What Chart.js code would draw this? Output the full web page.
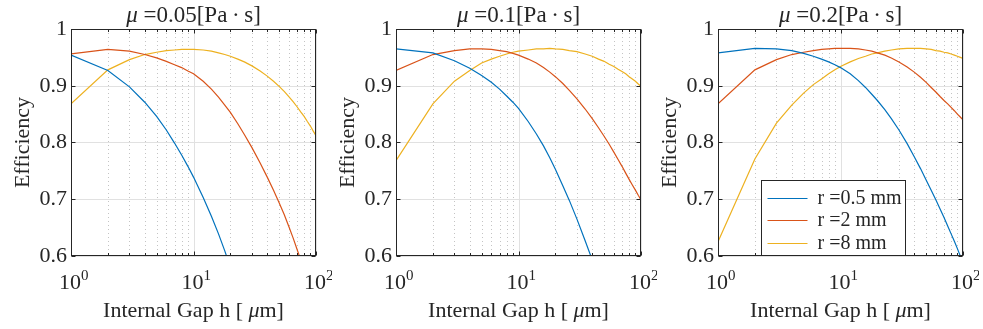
<!DOCTYPE html>
<html>
<head>
<meta charset="utf-8">
<script src="https://cdn.jsdelivr.net/npm/chart.js@4.4.1/dist/chart.umd.min.js"></script>
<style>
  body { margin: 0; background: #fff; width: 983px; height: 329px; overflow: hidden; position: relative; }
  .panel { position: absolute; top: 0; width: 323px; height: 329px; }
</style>
</head>
<body>
<div class="panel" style="left:9px"><canvas id="c1" width="323" height="329"></canvas></div>
<div class="panel" style="left:334px"><canvas id="c2" width="323" height="329"></canvas></div>
<div class="panel" style="left:656px"><canvas id="c3" width="323" height="329"></canvas></div>
<script>
// internal gap h [um]
const gap = [1, 2, 3, 4, 5, 6, 7, 8, 9, 10, 12, 14, 16, 18, 20, 23, 26, 30, 35, 40, 45, 50, 55, 60, 65, 70, 75, 80, 85, 90, 95, 100];
const viscosities = ['0.05', '0.1', '0.2'];
const radii = ['0.5', '2', '8'];
const xTickLabels = ['0', '1', '2'];   // exponents of 10
const yTicks = [0.6, 0.7, 0.8, 0.9, 1];

// mu = 0.05
const mu1_r05 = [0.954, 0.927, 0.898, 0.871, 0.846, 0.822, 0.799, 0.778, 0.758, 0.739, 0.703, 0.670, 0.639, 0.609, 0.580,
                 null, null, null, null, null, null, null, null, null, null, null, null, null, null, null, null, null];
const mu1_r2  = [0.956, 0.964, 0.961, 0.955, 0.949, 0.943, 0.937, 0.932, 0.926, 0.921, 0.908, 0.894, 0.880, 0.866, 0.853,
                 0.833, 0.814, 0.791, 0.764, 0.739, 0.716, 0.694, 0.673, 0.652, 0.632, 0.612, 0.593, 0.575, null, null, null, null];
const mu1_r8  = [0.868, 0.928, 0.946, 0.955, 0.959, 0.962, 0.963, 0.964, 0.964, 0.964, 0.963, 0.961, 0.958, 0.955, 0.952,
                 0.947, 0.942, 0.935, 0.926, 0.917, 0.908, 0.899, 0.890, 0.881, 0.872, 0.863, 0.854, 0.846, 0.837, 0.829, 0.820, 0.812];
// mu = 0.1
const mu2_r05 = [0.965, 0.958, 0.944, 0.931, 0.918, 0.906, 0.894, 0.882, 0.871, 0.860, 0.837, 0.815, 0.794, 0.773, 0.753,
                 0.724, 0.698, 0.665, 0.627, 0.593, 0.561, null, null, null, null, null, null, null, null, null, null, null];
const mu2_r2  = [0.927, 0.955, 0.962, 0.965, 0.965, 0.964, 0.962, 0.960, 0.957, 0.954, 0.947, 0.940, 0.932, 0.924, 0.916,
                 0.904, 0.892, 0.877, 0.859, 0.842, 0.826, 0.811, 0.797, 0.783, 0.770, 0.758, 0.746, 0.735, 0.725, 0.716, 0.707, 0.699];
const mu2_r8  = [0.768, 0.868, 0.908, 0.927, 0.940, 0.947, 0.952, 0.956, 0.959, 0.961, 0.963, 0.965, 0.965, 0.966, 0.965,
                 0.964, 0.962, 0.960, 0.956, 0.952, 0.947, 0.943, 0.938, 0.934, 0.929, 0.925, 0.921, 0.916, 0.912, 0.908, 0.903, 0.899];
// mu = 0.2
const mu3_r05 = [0.958, 0.966, 0.965, 0.962, 0.957, 0.952, 0.947, 0.942, 0.937, 0.932, 0.921, 0.909, 0.897, 0.885, 0.874,
                 0.858, 0.842, 0.822, 0.798, 0.775, 0.754, 0.734, 0.716, 0.699, 0.683, 0.668, 0.653, 0.639, 0.626, 0.613, 0.600, 0.588];
const mu3_r2  = [0.868, 0.928, 0.946, 0.955, 0.959, 0.962, 0.964, 0.965, 0.966, 0.966, 0.966, 0.965, 0.963, 0.961, 0.958,
                 0.954, 0.949, 0.942, 0.933, 0.924, 0.915, 0.906, 0.897, 0.889, 0.881, 0.874, 0.868, 0.862, 0.856, 0.850, 0.845, 0.840];
const mu3_r8  = [0.625, 0.771, 0.834, 0.866, 0.887, 0.902, 0.912, 0.921, 0.928, 0.934, 0.942, 0.948, 0.952, 0.956, 0.958,
                 0.961, 0.963, 0.965, 0.966, 0.966, 0.966, 0.965, 0.964, 0.962, 0.961, 0.959, 0.958, 0.956, 0.954, 0.952, 0.950, 0.948];

const colors = ['#0072BD', '#D95319', '#EDB120'];
const SERIF = '"Liberation Serif", "Times New Roman", serif';
const INK = '#262626';

// all the tick positions of the log axis: 1..9, 10..90, 100
const logTicks = [];
for (let d = 1; d <= 10; d *= 10) for (let k = 1; k < 10; k++) logTicks.push(k * d);
logTicks.push(100);

function points(arr) {
  return gap.map((h, i) => ({ x: h, y: arr[i] }));
}

function drawMixed(ctx, parts, cx, y) {
  // parts: [text, italic, size]
  let total = 0;
  parts.forEach(p => {
    ctx.font = (p[1] ? 'italic ' : '') + p[2] + 'px ' + SERIF;
    total += ctx.measureText(p[0]).width;
  });
  let x = cx - total / 2;
  ctx.textAlign = 'left';
  ctx.textBaseline = 'alphabetic';
  parts.forEach(p => {
    ctx.font = (p[1] ? 'italic ' : '') + p[2] + 'px ' + SERIF;
    ctx.fillText(p[0], x, y);
    x += ctx.measureText(p[0]).width;
  });
}

const matlabAxes = {
  id: 'matlabAxes',
  beforeDatasetsDraw(chart) {
    const { ctx, chartArea: a, scales } = chart;
    const xs = scales.x, ys = scales.y;
    ctx.save();
    ctx.lineWidth = 1;
    logTicks.forEach(v => {
      const px = Math.round(xs.getPixelForValue(v)) + 0.5;
      const major = [1, 10, 100].includes(v);
      ctx.strokeStyle = major ? '#e1e1e1' : '#c4c4c4';
      ctx.setLineDash(major ? [] : [1, 3]);
      ctx.beginPath();
      ctx.moveTo(px, a.top);
      ctx.lineTo(px, a.bottom);
      ctx.stroke();
    });
    ctx.setLineDash([]);
    ctx.strokeStyle = '#e1e1e1';
    yTicks.forEach(v => {
      const py = Math.round(ys.getPixelForValue(v)) + 0.5;
      ctx.beginPath();
      ctx.moveTo(a.left, py);
      ctx.lineTo(a.right, py);
      ctx.stroke();
    });
    ctx.restore();
  },
  afterDatasetsDraw(chart, args, opts) {
    const { ctx, chartArea: a, scales } = chart;
    const xs = scales.x, ys = scales.y;
    ctx.save();
    ctx.strokeStyle = INK;
    ctx.fillStyle = INK;
    ctx.lineWidth = 1;
    const L = Math.round(a.left) + 0.5, R = Math.round(a.right) - 0.5;
    const T = Math.round(a.top) + 0.5, B = Math.round(a.bottom) - 0.5;
    ctx.strokeRect(L, T, R - L, B - T);
    // inward ticks
    ctx.beginPath();
    logTicks.forEach(v => {
      const px = Math.round(xs.getPixelForValue(v)) + 0.5;
      const len = [1, 10, 100].includes(v) ? 4 : 2.5;
      ctx.moveTo(px, B); ctx.lineTo(px, B - len);
      ctx.moveTo(px, T); ctx.lineTo(px, T + len);
    });
    yTicks.forEach(v => {
      const py = Math.round(ys.getPixelForValue(v)) + 0.5;
      ctx.moveTo(L, py); ctx.lineTo(L + 4, py);
      ctx.moveTo(R, py); ctx.lineTo(R - 4, py);
    });
    ctx.stroke();

    // x tick labels 10^n
    ctx.textAlign = 'left';
    ctx.textBaseline = 'alphabetic';
    [1, 10, 100].forEach((v, i) => {
      const px = xs.getPixelForValue(v);
      ctx.font = '22px ' + SERIF;
      const w = ctx.measureText('10').width;
      ctx.fillText('10', px - 12, 289);
      ctx.font = '15px ' + SERIF;
      ctx.fillText(xTickLabels[i], px - 12 + w, 280);
    });

    // x axis title and panel title
    const cx = (a.left + a.right) / 2;
    drawMixed(ctx, [['Internal Gap h [ ', false, 22], ['\u03bc', true, 22], ['m]', false, 22]], cx, 317);
    drawMixed(ctx, [['\u03bc', true, 23], [' =' + opts.mu + '[Pa\u2009\u00b7\u2009s]', false, 23]], cx, 22);

    // legend box
    if (opts.legend) {
      const bx = Math.round(a.left) + 43.5, by = Math.round(a.top) + 151.5;
      const bw = 144, bh = B - by;
      ctx.fillStyle = '#fff';
      ctx.fillRect(bx, by, bw, bh);
      ctx.strokeStyle = INK;
      ctx.strokeRect(bx, by, bw, bh);
      ctx.font = '20px ' + SERIF;
      ctx.textBaseline = 'middle';
      chart.data.datasets.forEach((ds, i) => {
        const ry = by + 17 + i * 22.5;
        ctx.strokeStyle = ds.borderColor;
        ctx.beginPath();
        ctx.moveTo(bx + 6, Math.round(ry) + 0.5);
        ctx.lineTo(bx + 46, Math.round(ry) + 0.5);
        ctx.stroke();
        ctx.fillStyle = INK;
        ctx.fillText(ds.label, bx + 56, ry + 1);
      });
    }
    ctx.restore();
  }
};

function makeChart(id, mu, series, showLegend) {
  return new Chart(document.getElementById(id), {
    type: 'line',
    data: {
      datasets: series.map((s, i) => ({
        label: 'r =' + radii[i] + ' mm',
        data: points(s),
        borderColor: colors[i],
        backgroundColor: colors[i],
        borderWidth: 1.2,
        pointRadius: 0,
        tension: 0,
        fill: false
      }))
    },
    options: {
      responsive: false,
      animation: false,
      events: [],
      layout: { padding: { top: 29, right: 16, left: 0, bottom: 0 } },
      plugins: {
        legend: { display: false },
        tooltip: { enabled: false },
        title: { display: false },
        matlabAxes: { mu: mu, legend: showLegend }
      },
      scales: {
        x: {
          type: 'logarithmic',
          min: 1,
          max: 100,
          afterBuildTicks(scale) { scale.ticks = logTicks.map(v => ({ value: v })); },
          afterFit(scale) { scale.height = 73; },
          grid: { display: false, drawTicks: false },
          border: { display: false },
          ticks: { display: false }
        },
        y: {
          min: 0.6,
          max: 1,
          afterBuildTicks(scale) { scale.ticks = yTicks.map(v => ({ value: v })); },
          afterFit(scale) { scale.width = 62; },
          grid: { display: false, drawTicks: false },
          border: { display: false },
          ticks: {
            padding: 4,
            color: INK,
            font: { family: SERIF, size: 22 },
            callback: v => (v === 1 ? '1' : v.toFixed(1))
          },
          title: {
            display: true,
            text: 'Efficiency',
            color: INK,
            font: { family: SERIF, size: 22 },
            padding: { top: 1, bottom: 0 }
          }
        }
      }
    },
    plugins: [matlabAxes]
  });
}

makeChart('c1', viscosities[0], [mu1_r05, mu1_r2, mu1_r8], false);
makeChart('c2', viscosities[1], [mu2_r05, mu2_r2, mu2_r8], false);
makeChart('c3', viscosities[2], [mu3_r05, mu3_r2, mu3_r8], true);
</script>
</body>
</html>
